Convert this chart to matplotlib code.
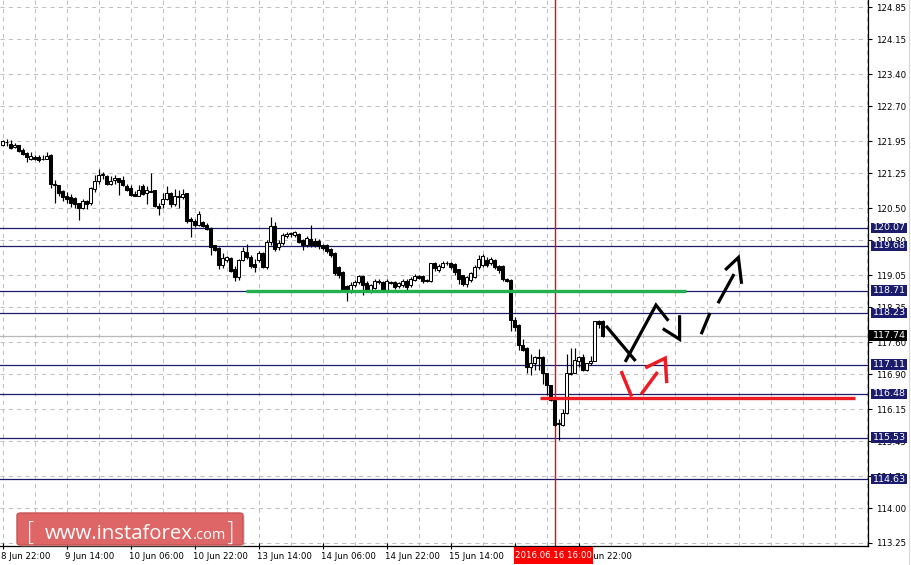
import matplotlib
matplotlib.use("Agg")
import matplotlib.pyplot as plt
import matplotlib.transforms as mtransforms
from matplotlib.patches import Rectangle, FancyBboxPatch

# ---------------- data (USDJPY H1) ----------------
opens = [121.86, 121.92, 121.88, 121.83, 121.87, 121.76, 121.70, 121.57, 121.61, 121.61,
         121.57, 121.57, 121.65, 121.03, 120.99, 120.86, 120.75, 120.73, 120.72, 120.60,
         120.51, 120.65, 120.60, 120.92, 121.08, 121.22, 121.19, 121.03, 121.10, 121.15,
         121.10, 120.98, 120.94, 120.80, 120.77, 120.98, 120.82, 120.87, 120.88, 120.55,
         120.59, 120.70, 120.82, 120.58, 120.73, 120.73, 120.82, 120.26, 120.23, 120.13,
         120.20, 120.14, 120.07, 119.69, 119.63, 119.27, 119.37, 119.42, 119.18, 119.00,
         119.37, 119.55, 119.45, 119.28, 119.38, 119.52, 119.22, 119.76, 120.11, 119.66,
         119.74, 119.90, 119.93, 119.92, 119.94, 119.81, 119.71, 119.84, 119.78, 119.78,
         119.70, 119.70, 119.62, 119.52, 119.23, 119.12, 118.81, 118.73, 118.84, 118.90,
         119.03, 118.88, 118.73, 118.78, 118.90, 118.90, 118.73, 118.90, 118.90, 118.81,
         118.84, 118.93, 118.84, 118.95, 119.03, 119.03, 118.94, 118.92, 119.32, 119.16,
         119.23, 119.31, 119.32, 119.29, 119.17, 119.04, 118.86, 118.94, 119.01, 119.22,
         119.26, 119.38, 119.30, 119.38, 119.24, 119.24, 118.97, 118.94, 118.08, 117.96,
         117.53, 117.47, 117.05, 117.14, 117.26, 117.28, 116.92, 116.66, 116.35, 115.83,
         115.81, 116.07, 116.91, 116.92, 117.20, 117.28, 117.00, 117.14, 117.20, 118.06, 118.06]
highs = [121.97, 122.00, 121.97, 121.90, 121.87, 121.80, 121.72, 121.72, 121.65, 121.64,
         121.65, 121.72, 121.67, 121.10, 121.00, 120.88, 120.84, 120.80, 120.74, 120.61,
         120.70, 120.67, 120.95, 121.21, 121.35, 121.27, 121.22, 121.19, 121.22, 121.15,
         121.20, 121.03, 120.99, 120.86, 121.00, 121.01, 120.97, 121.25, 120.89, 120.60,
         120.82, 120.98, 120.84, 120.92, 120.90, 120.92, 120.82, 120.30, 120.26, 120.43,
         120.22, 120.17, 120.10, 119.71, 119.65, 119.52, 119.47, 119.43, 119.24, 119.40,
         119.65, 119.73, 119.48, 119.40, 119.58, 119.55, 119.80, 120.31, 120.20, 119.80,
         119.95, 119.98, 119.99, 120.00, 119.96, 119.84, 119.90, 120.13, 119.85, 119.82,
         119.73, 119.72, 119.64, 119.55, 119.25, 119.14, 118.84, 118.90, 118.95, 119.05,
         119.05, 118.92, 118.86, 118.97, 118.97, 118.93, 118.96, 118.93, 118.93, 118.90,
         118.96, 118.96, 119.00, 119.08, 119.06, 119.05, 118.96, 119.32, 119.34, 119.29,
         119.36, 119.35, 119.34, 119.31, 119.19, 119.06, 119.02, 119.12, 119.26, 119.49,
         119.50, 119.44, 119.44, 119.40, 119.26, 119.26, 118.99, 118.96, 118.14, 117.98,
         117.66, 117.50, 117.33, 117.30, 117.44, 117.30, 116.94, 116.68, 116.37, 115.93,
         116.16, 117.34, 117.47, 117.46, 117.30, 117.35, 117.14, 117.30, 118.06, 118.07, 118.08]
lows = [121.84, 121.84, 121.77, 121.79, 121.72, 121.65, 121.50, 121.55, 121.53, 121.49,
        121.55, 121.56, 120.94, 120.61, 120.75, 120.66, 120.60, 120.52, 120.50, 120.25,
        120.47, 120.48, 120.57, 120.85, 121.03, 121.12, 120.99, 120.99, 121.03, 120.79,
        120.98, 120.86, 120.77, 120.75, 120.76, 120.78, 120.58, 120.84, 120.52, 120.35,
        120.50, 120.68, 120.52, 120.54, 120.50, 120.69, 120.18, 119.88, 120.10, 120.12,
        120.10, 120.03, 119.49, 119.57, 119.19, 119.21, 119.33, 119.12, 118.92, 118.94,
        119.35, 119.40, 119.20, 119.12, 119.33, 119.20, 119.18, 119.70, 119.58, 119.60,
        119.70, 119.85, 119.88, 119.88, 119.74, 119.60, 119.65, 119.66, 119.66, 119.62,
        119.60, 119.52, 119.45, 119.05, 118.98, 118.70, 118.49, 118.66, 118.80, 118.86,
        118.61, 118.68, 118.66, 118.75, 118.86, 118.68, 118.70, 118.85, 118.74, 118.78,
        118.80, 118.70, 118.80, 118.92, 118.96, 118.88, 118.90, 118.90, 119.14, 119.12,
        119.20, 119.26, 119.18, 119.06, 118.86, 118.82, 118.80, 118.90, 118.98, 119.18,
        119.22, 119.22, 119.26, 119.18, 119.10, 118.93, 118.90, 117.83, 117.83, 117.43,
        117.40, 116.92, 116.88, 117.00, 117.00, 116.69, 116.46, 116.33, 115.79, 115.48,
        115.79, 116.05, 116.89, 116.92, 117.05, 116.98, 116.98, 117.10, 117.18, 117.90, 117.70]
closes = [121.95, 121.94, 121.81, 121.87, 121.74, 121.67, 121.60, 121.62, 121.57, 121.54,
          121.56, 121.62, 121.03, 121.00, 120.83, 120.73, 120.70, 120.60, 120.58, 120.51,
          120.66, 120.58, 120.94, 121.08, 121.22, 121.24, 121.03, 121.09, 121.15, 121.06,
          121.00, 120.88, 120.78, 120.77, 120.90, 120.80, 120.90, 120.85, 120.55, 120.50,
          120.70, 120.82, 120.58, 120.75, 120.76, 120.80, 120.22, 120.22, 120.13, 120.37,
          120.12, 120.05, 119.65, 119.60, 119.26, 119.42, 119.44, 119.14, 119.01, 119.37,
          119.58, 119.45, 119.25, 119.22, 119.53, 119.23, 119.76, 120.11, 119.62, 119.74,
          119.91, 119.94, 119.96, 119.98, 119.76, 119.71, 119.85, 119.71, 119.71, 119.68,
          119.64, 119.56, 119.48, 119.09, 119.06, 118.73, 118.73, 118.83, 118.90, 119.03,
          118.83, 118.73, 118.83, 118.93, 118.93, 118.73, 118.93, 118.88, 118.80, 118.87,
          118.93, 118.80, 118.96, 119.03, 118.99, 118.92, 118.93, 119.30, 119.20, 119.24,
          119.30, 119.30, 119.22, 119.12, 118.97, 118.86, 119.00, 119.09, 119.22, 119.40,
          119.46, 119.26, 119.39, 119.23, 119.16, 118.97, 118.93, 118.07, 117.93, 117.53,
          117.43, 117.05, 117.14, 117.27, 117.27, 116.92, 116.68, 116.35, 115.80, 115.84,
          116.06, 116.94, 116.93, 117.21, 117.28, 117.00, 117.14, 117.20, 118.06, 117.99, 117.74]

x_tick_idx = [0, 16, 32, 48, 64, 80, 96, 112, 128, 144]
x_tick_labels = ["8 Jun 22:00", "9 Jun 14:00", "10 Jun 06:00", "10 Jun 22:00",
                 "13 Jun 14:00", "14 Jun 06:00", "14 Jun 22:00", "15 Jun 14:00",
                 "16 Jun 06:00", "16 Jun 22:00"]
y_ticks = [124.85, 124.15, 123.40, 122.70, 121.95, 121.25, 120.50, 119.80, 119.05,
           118.35, 117.60, 116.90, 116.15, 115.45, 114.70, 114.00, 113.25]
levels = [120.07, 119.68, 118.71, 118.23, 117.11, 116.48, 115.53, 114.63]
bid_price = 117.74
green_level = 118.70
green_span = (60.8, 170.8)
red_level = 116.39
red_span = (134.3, 213.1)
cursor_idx = 138
cursor_label = "2016.06.16 16:00"

black_strokes = [
    [(150.8, 117.95), (158.2, 117.19)],
    [(155.6, 117.17), (163.3, 118.40), (166.4, 118.06)],
    [(165.0, 117.89), (169.2, 117.66), (169.2, 118.18)],
    [(174.6, 117.77), (176.8, 118.23)],
    [(178.8, 118.44), (182.8, 119.07)],
    [(180.6, 119.16), (183.9, 119.43), (184.7, 118.86)],
]
red_strokes = [
    [(154.6, 116.97), (157.2, 116.42)],
    [(159.6, 116.47), (163.7, 116.95)],
    [(160.6, 117.04), (165.6, 117.25), (166.0, 116.71)],
]

# ---------------- figure ----------------
W, H = 912, 565
fig = plt.figure(figsize=(W / 100, H / 100), dpi=100)
fig.patch.set_facecolor("white")
AX_R, AX_B = 868, 546
ax = fig.add_axes([0, (H - AX_B) / H, AX_R / W, AX_B / H])
ax.set_facecolor("white")
ax.set_xlim(-0.675, 216.3)
ax.set_ylim(113.185, 125.003)

FONT = "DejaVu Sans"
FS = 6.2
NAVY = "#1c1c6c"

# grid
for i in range(0, 217, 8):
    ax.axvline(i, color="#c0c0c0", lw=0.75, ls=(0, (4, 4)), zorder=0)
for yv in y_ticks:
    ax.axhline(yv, color="#c0c0c0", lw=0.75, ls=(0, (4, 4)), zorder=0)

# level lines
for lv in levels:
    ax.axhline(lv, color=NAVY, lw=0.9, zorder=1)
ax.axhline(bid_price, color="#b8b8b8", lw=0.9, zorder=1)

# cursor line
ax.axvline(cursor_idx, color="#ff0000", lw=1.0, zorder=1.5)

# candles
n = len(opens)
idx = list(range(n))
ax.vlines(idx, lows, highs, color="black", lw=0.85, zorder=2)
for i in idx:
    o, c = opens[i], closes[i]
    lo, hi = min(o, c), max(o, c)
    h = max(hi - lo, 0.012)
    fc = "white" if c >= o else "black"
    ax.add_patch(Rectangle((i - 0.37, lo), 0.74, h, facecolor=fc,
                           edgecolor="black", lw=0.75, zorder=3))

# green / red support lines
ax.plot(green_span, [green_level, green_level], color="#22b14c", lw=2.4,
        solid_capstyle="butt", zorder=4)
ax.plot(red_span, [red_level, red_level], color="#ed1c24", lw=2.4,
        solid_capstyle="butt", zorder=4)

for s in black_strokes:
    xs, ys = zip(*s)
    ax.plot(xs, ys, color="black", lw=2.3, solid_capstyle="butt",
            solid_joinstyle="miter", zorder=5)
for s in red_strokes:
    xs, ys = zip(*s)
    ax.plot(xs, ys, color="#ed1c24", lw=2.5, solid_capstyle="butt",
            solid_joinstyle="miter", zorder=5)

# axes styling
for sp in ["top", "left"]:
    ax.spines[sp].set_visible(False)
ax.spines["right"].set_color("black")
ax.spines["bottom"].set_color("black")
ax.spines["right"].set_linewidth(0.9)
ax.spines["bottom"].set_linewidth(0.9)

ax.yaxis.tick_right()
ax.set_yticks(y_ticks)
ax.set_yticklabels([f"{v:.2f}" for v in y_ticks], fontsize=FS, family=FONT)
ax.tick_params(axis="y", length=3, width=0.8, pad=3, colors="black")
ax.set_xticks(x_tick_idx)
ax.set_xticklabels(x_tick_labels, fontsize=FS, family=FONT)
ax.tick_params(axis="x", length=4, width=0.8, pad=2, direction="inout")
off = mtransforms.ScaledTranslation(-2 / 100, 0, fig.dpi_scale_trans)
for lab in ax.get_xticklabels():
    lab.set_horizontalalignment("left")
    lab.set_transform(lab.get_transform() + off)

# right-side level boxes
bt = mtransforms.blended_transform_factory(fig.transFigure, ax.transData)
box_h = 10.5 / 46.2
for lv in levels + [bid_price]:
    col = "black" if lv == bid_price else NAVY
    x0 = 869 if lv == bid_price else 871
    ax.add_patch(Rectangle((x0 / W, lv - box_h / 2), (907 - x0) / W, box_h, transform=bt,
                           facecolor=col, edgecolor="none", clip_on=False, zorder=10))
    ax.text(889 / W, lv, f"{lv:.2f}", transform=bt, color="white", fontsize=6.8,
            family=FONT, ha="center", va="center", clip_on=False, zorder=11)

# cursor time label at bottom
fig.add_artist(Rectangle((514 / W, 1 - 564 / H), 79 / W, 17 / H, transform=fig.transFigure,
                         facecolor="#ff0000", edgecolor="none", zorder=5))
fig.text(553.5 / W, 1 - 556 / H, cursor_label, color="white", fontsize=FS, family=FONT,
         ha="center", va="center", zorder=6)

# right strip
fig.add_artist(plt.Line2D([909 / W, 909 / W], [0, 1], transform=fig.transFigure,
                          color="#d6d6d6", lw=0.8))

# logo (with soft shadow)
fig.add_artist(FancyBboxPatch((19 / W, 1 - 547 / H), 226 / W, 32 / H,
                              boxstyle="round,pad=0,rounding_size=0.004",
                              transform=fig.transFigure, facecolor="#999999",
                              edgecolor="none", alpha=0.35, zorder=4))
fig.add_artist(FancyBboxPatch((17 / W, 1 - 545 / H), 226 / W, 32 / H,
                              boxstyle="round,pad=0,rounding_size=0.004",
                              transform=fig.transFigure, facecolor="#df6666",
                              edgecolor="#c85252", lw=1.0, zorder=5))
fig.canvas.draw()
r = fig.canvas.get_renderer()
t1 = fig.text(45 / W, 1 - 539 / H, "www.instaforex", color="white", fontsize=15,
              family="Open Sans", ha="left", va="baseline", zorder=6)
w1 = t1.get_window_extent(r).width
t1.set_fontsize(15 * 148 / w1)
fig.canvas.draw()
e1 = t1.get_window_extent(r)
fig.text(e1.x1 / W, 1 - 539 / H, ".com", color="white", fontsize=t1.get_fontsize() * 0.72,
         family="Open Sans", ha="left", va="baseline", zorder=6)
fig.text(31 / W, 1 - 533 / H, "[", color="white", fontsize=19, family="DejaVu Sans",
         ha="center", va="center", zorder=6, fontweight="light")
fig.text(230 / W, 1 - 533 / H, "]", color="white", fontsize=19, family="DejaVu Sans",
         ha="center", va="center", zorder=6, fontweight="light")

fig.savefig("out.png", dpi=100)
